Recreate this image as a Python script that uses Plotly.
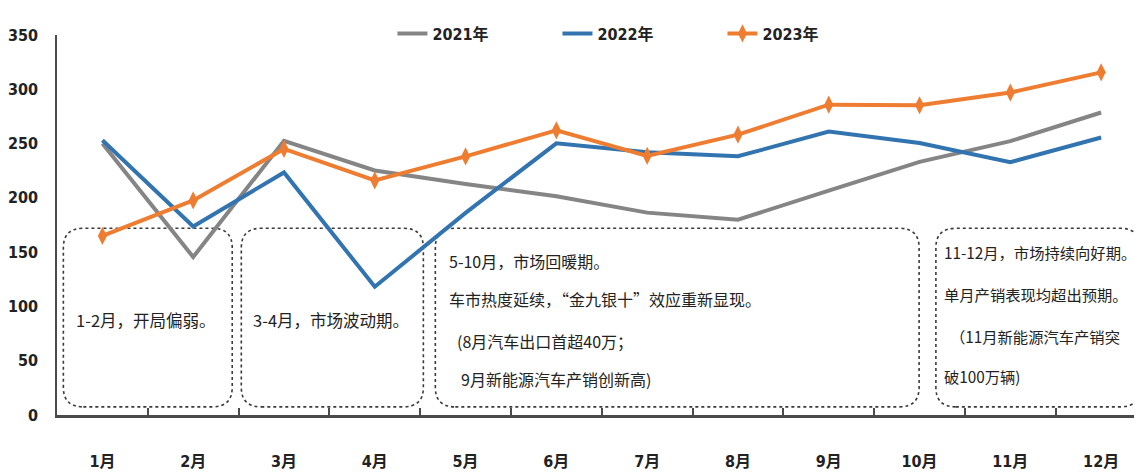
import plotly.graph_objects as go

# ---------------- data ----------------
months = ["1月", "2月", "3月", "4月", "5月", "6月", "7月", "8月", "9月", "10月", "11月", "12月"]
sales_2021 = [250.0, 145.5, 252.6, 225.2, 212.8, 201.5, 186.4, 179.9, 206.7, 233.2, 252.2, 278.6]
sales_2022 = [253.1, 173.7, 223.4, 118.1, 186.2, 250.2, 242.0, 238.3, 261.0, 250.5, 232.9, 255.6]
sales_2023 = [164.9, 197.6, 245.1, 216.0, 238.2, 262.2, 238.7, 258.2, 285.8, 285.3, 297.0, 315.6]
series_names = ["2021年", "2022年", "2023年"]
y_ticks = [0, 50, 100, 150, 200, 250, 300, 350]

box1_lines = ["1-2月，开局偏弱。"]
box2_lines = ["3-4月，市场波动期。"]
box3_lines = ["5-10月，市场回暖期。", "车市热度延续，“金九银十”效应重新显现。",
              "(8月汽车出口首超40万；", "9月新能源汽车产销创新高)"]
box4_lines = ["11-12月，市场持续向好期。", "单月产销表现均超出预期。",
              "（11月新能源汽车产销突", "破100万辆)"]

# ---------------- styling ----------------
NUM_FONT = "Liberation Sans Narrow, DejaVu Sans Condensed, Arial Narrow, Noto Sans CJK SC, sans-serif"
CJK_FONT = "Noto Sans CJK SC, sans-serif"
GRAY, BLUE, ORANGE = "#858585", "#3274b0", "#ee7d31"
x_idx = list(range(len(months)))

fig = go.Figure()
fig.add_trace(go.Scatter(x=x_idx, y=sales_2021, name=series_names[0], mode="lines",
                         line=dict(color=GRAY, width=4)))
fig.add_trace(go.Scatter(x=x_idx, y=sales_2022, name=series_names[1], mode="lines",
                         line=dict(color=BLUE, width=4)))
fig.add_trace(go.Scatter(x=x_idx, y=sales_2023, name=series_names[2], mode="lines+markers",
                         line=dict(color=ORANGE, width=4),
                         marker=dict(symbol="diamond-tall", size=13, color=ORANGE)))

XMIN, XMAX = -0.5, 11.45


def rounded_box(x0, x1, y0, y1, rx=0.22, ry=18.0):
    return (f"M {x0+rx},{y0} L {x1-rx},{y0} Q {x1},{y0} {x1},{y0+ry} "
            f"L {x1},{y1-ry} Q {x1},{y1} {x1-rx},{y1} L {x0+rx},{y1} "
            f"Q {x0},{y1} {x0},{y1-ry} L {x0},{y0+ry} Q {x0},{y0} {x0+rx},{y0} Z")


box_specs = [(-0.43, 1.43), (1.53, 3.535), (3.667, 8.995), (9.18, 11.43)]
shapes = []
for bx0, bx1 in box_specs:
    shapes.append(dict(type="path", xref="x", yref="y", path=rounded_box(bx0, bx1, 7.5, 172),
                       line=dict(color="#3a3a3a", width=1.6, dash="dot"), layer="below"))

annotations = []
tf = dict(family=CJK_FONT, size=16, color="#222222")
tf_big = dict(family=CJK_FONT, size=16.5, color="#222222")
tf_small = dict(family=CJK_FONT, size=15.3, color="#222222")
annotations.append(dict(x=0.476, y=87.5, xref="x", yref="y", text=box1_lines[0],
                        showarrow=False, font=tf_big, xanchor="center", yanchor="middle"))
annotations.append(dict(x=2.52, y=87.5, xref="x", yref="y", text=box2_lines[0],
                        showarrow=False, font=tf_big, xanchor="center", yanchor="middle"))
box3_x = [3.79, 3.79, 3.88, 3.93]
box4_x = [9.25, 9.25, 9.31, 9.25]
line_y = [142.0, 107.0, 68.0, 33.0]
box4_y = [150.0, 111.5, 73.0, 36.0]
for i, t in enumerate(box3_lines):
    annotations.append(dict(x=box3_x[i], y=line_y[i], xref="x", yref="y", text=t,
                            showarrow=False, font=tf, xanchor="left", yanchor="middle"))
for i, t in enumerate(box4_lines):
    annotations.append(dict(x=box4_x[i], y=box4_y[i], xref="x", yref="y", text=t,
                            showarrow=False, font=tf_small, xanchor="left", yanchor="middle"))

# The page body adds an 8px offset, so the figure is sized/margined to compensate.
fig.update_layout(
    width=1134, height=467,
    margin=dict(l=44, r=0, t=27, b=60),
    paper_bgcolor="white", plot_bgcolor="white",
    showlegend=True,
    legend=dict(orientation="h", xref="paper", yref="paper",
                x=(389 - 52) / 1090, y=1.004, xanchor="left", yanchor="middle",
                entrywidth=120, entrywidthmode="pixels",
                font=dict(family=NUM_FONT, size=16, color="#222222", weight="bold"),
                bgcolor="rgba(0,0,0,0)", traceorder="normal"),
    shapes=shapes,
    annotations=annotations,
    xaxis=dict(range=[XMIN, XMAX], tickmode="array", tickvals=x_idx, ticktext=months,
               showgrid=False, zeroline=False, showline=True, linecolor="#4a4a4a", linewidth=2.5,
               ticks="", ticklabelstandoff=30,
               tickfont=dict(family=NUM_FONT, size=16, color="#222222", weight="bold"),
               minor=dict(tickmode="array", tickvals=[v + 0.5 for v in x_idx[:-1]],
                          ticks="inside", ticklen=7, tickcolor="#4a4a4a", tickwidth=1.5,
                          showgrid=False)),
    yaxis=dict(range=[0, 350], tickmode="array", tickvals=y_ticks,
               showgrid=False, zeroline=False, showline=True, linecolor="#4a4a4a", linewidth=1.5,
               ticks="", ticklabelstandoff=14,
               tickfont=dict(family=NUM_FONT, size=16, color="#222222", weight="bold")),
)

fig.write_html("out.html")
